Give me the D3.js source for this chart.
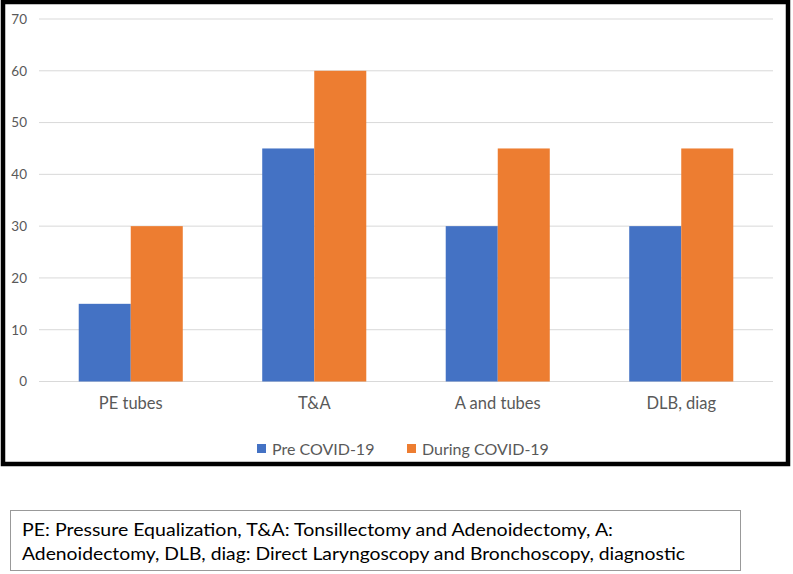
<!DOCTYPE html>
<html><head><meta charset="utf-8">
<script src="https://cdn.jsdelivr.net/npm/d3@7"></script>
<style>body{margin:0;background:#fff}svg{display:block}</style>
</head><body>
<svg id="c" width="793" height="574"></svg>
<script>
const categories = ["PE tubes", "T&A", "A and tubes", "DLB, diag"];
const seriesNames = ["Pre COVID-19", "During COVID-19"];
const preValues = [15, 45, 30, 30];
const duringValues = [30, 60, 45, 45];
const yTicks = [0, 10, 20, 30, 40, 50, 60, 70];
const colors = ["#4472C4", "#ED7D31"];
const footLines = [
  "PE: Pressure Equalization, T&A: Tonsillectomy and Adenoidectomy, A:",
  "Adenoidectomy, DLB, diag: Direct Laryngoscopy and Bronchoscopy, diagnostic"
];

const svg = d3.select("#c");
const font = "Lato, 'Open Sans', sans-serif";

// outer frame
svg.append("rect").attr("x", 3).attr("y", 2).attr("width", 785).attr("height", 462)
  .attr("fill", "#fff").attr("stroke", "#000").attr("stroke-width", 4.5);

const pL = 39, pR = 773, pT = 19, pB = 381.5;
const x = d3.scaleBand().domain(categories).range([pL, pR]).paddingInner(0.433).paddingOuter(0.2165);
const xs = d3.scaleBand().domain([0, 1]).range([0, x.bandwidth()]);
const y = d3.scaleLinear().domain([0, 70]).range([pB, pT]);

// gridlines
svg.append("g").selectAll("line").data(yTicks).join("line")
  .attr("x1", pL).attr("x2", pR)
  .attr("y1", d => y(d)).attr("y2", d => y(d))
  .attr("stroke", "#d9d9d9").attr("stroke-width", 1);

// y axis labels via axis
const yAxis = svg.append("g").attr("transform", `translate(${pL},0)`)
  .call(d3.axisLeft(y).tickValues(yTicks).tickSize(0).tickPadding(12));
yAxis.select(".domain").remove();
yAxis.selectAll("text").attr("font-family", font).attr("font-size", 13.5).attr("fill", "#595959");

// bars
const rows = categories.map((c, i) => ({c, vals: [preValues[i], duringValues[i]]}));
const g = svg.append("g").selectAll("g").data(rows).join("g")
  .attr("transform", d => `translate(${x(d.c)},0)`);
g.selectAll("rect").data(d => d.vals.map((v, k) => ({v, k}))).join("rect")
  .attr("x", d => xs(d.k)).attr("width", xs.bandwidth())
  .attr("y", d => y(d.v)).attr("height", d => y(0) - y(d.v))
  .attr("fill", d => colors[d.k]);

// x axis labels
const xAxis = svg.append("g").attr("transform", `translate(0,${pB})`)
  .call(d3.axisBottom(x).tickSize(0).tickPadding(16));
xAxis.select(".domain").remove();
xAxis.selectAll("text").attr("font-family", font).attr("font-size", 16.5).attr("fill", "#595959");

// legend
const legX = [257, 407];
const leg = svg.append("g").selectAll("g").data(seriesNames).join("g")
  .attr("transform", (d, i) => `translate(${legX[i]},444)`);
leg.append("rect").attr("width", 9).attr("height", 9).attr("fill", (d, i) => colors[i]);
leg.append("text").attr("x", 15).attr("y", 5).attr("dy", "0.35em")
  .attr("font-family", font).attr("font-size", 16).attr("fill", "#595959").text(d => d);

// footnote box
svg.append("rect").attr("x", 10.5).attr("y", 510.5).attr("width", 730).attr("height", 60)
  .attr("fill", "#fff").attr("stroke", "#999").attr("stroke-width", 1);
const lineW = [591, 663];
svg.append("g").selectAll("text").data(footLines).join("text")
  .attr("x", 22).attr("y", (d, i) => 530 + i * 24).attr("dy", "0.35em")
  .attr("font-family", font).attr("font-size", 17.5).attr("fill", "#000")
  .attr("textLength", (d, i) => lineW[i]).attr("lengthAdjust", "spacingAndGlyphs")
  .text(d => d);
</script>
</body></html>
